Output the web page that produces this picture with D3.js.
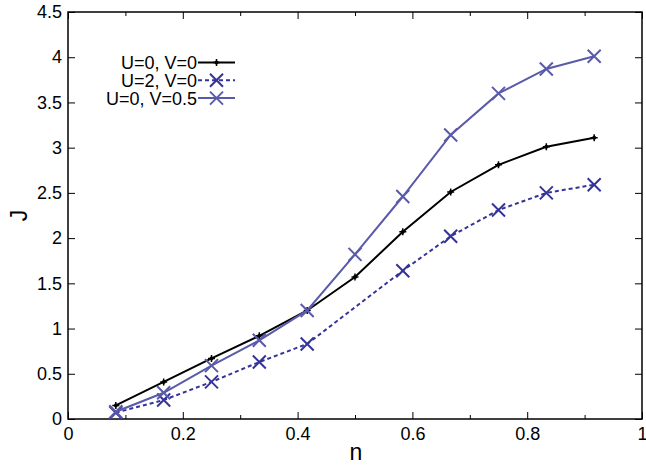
<!DOCTYPE html>
<html>
<head>
<meta charset="utf-8">
<script src="https://cdn.jsdelivr.net/npm/d3@7"></script>
<style>
  html, body { margin: 0; padding: 0; background: #fff; }
  svg { display: block; }
  text { font-family: "Liberation Sans", Arial, Helvetica, sans-serif; fill: #000; }
</style>
</head>
<body>
<div id="chart"></div>
<script>
// Filling fraction n (1/12 ... 11/12)
const nValues = [0.0833, 0.1667, 0.25, 0.3333, 0.4167, 0.5, 0.5833, 0.6667, 0.75, 0.8333, 0.9167];

// Current J for each parameter set (null = no data point at that n)
const jU0V0   = [0.15, 0.41, 0.67, 0.92, 1.20, 1.57, 2.07, 2.51, 2.81, 3.01, 3.11];
const jU2V0   = [0.07, 0.21, 0.41, 0.63, 0.83, null, 1.64, 2.02, 2.31, 2.50, 2.59];
const jU0V05  = [0.08, 0.29, 0.59, 0.87, 1.20, 1.82, 2.46, 3.14, 3.60, 3.87, 4.01];

const seriesNames = ["U=0, V=0", "U=2, V=0", "U=0, V=0.5"];

const xTicks = [0, 0.2, 0.4, 0.6, 0.8, 1];
const xMinorTicks = [0.1, 0.3, 0.5, 0.7, 0.9];
const yTicks = [0, 0.5, 1, 1.5, 2, 2.5, 3, 3.5, 4, 4.5];

const W = 646, H = 465;
const margin = { left: 68, right: 4, top: 12, bottom: 46 };

const svg = d3.select("#chart").append("svg")
  .attr("width", W).attr("height", H);

const x = d3.scaleLinear().domain([0, 1]).range([margin.left, W - margin.right]);
const y = d3.scaleLinear().domain([0, 4.5]).range([H - margin.bottom, margin.top]);

const series = [
  { name: seriesNames[0], values: jU0V0, color: "#000000", dash: null, marker: "plus", width: 2 },
  { name: seriesNames[1], values: jU2V0, color: "#33339a", dash: "4,3", marker: "cross", width: 2 },
  { name: seriesNames[2], values: jU0V05, color: "#5a5aaa", dash: null, marker: "cross", width: 2 }
];

// Axes: ticks point inward, mirrored on top and right
const tickLen = 7, minorLen = 4;
const fmt = d3.format("~g");
const bottomAxis = d3.axisBottom(x).tickValues(xTicks).tickSizeInner(-tickLen).tickSizeOuter(0)
  .tickPadding(8).tickFormat(fmt);
const bottomMinor = d3.axisBottom(x).tickValues(xMinorTicks).tickSizeInner(-minorLen).tickSizeOuter(0).tickFormat("");
const topAxis = d3.axisTop(x).tickValues(xTicks).tickSizeInner(-tickLen).tickSizeOuter(0).tickFormat("");
const topMinor = d3.axisTop(x).tickValues(xMinorTicks).tickSizeInner(-minorLen).tickSizeOuter(0).tickFormat("");
const leftAxis = d3.axisLeft(y).tickValues(yTicks).tickSizeInner(-tickLen).tickSizeOuter(0)
  .tickPadding(6).tickFormat(fmt);
const rightAxis = d3.axisRight(y).tickValues(yTicks).tickSizeInner(-tickLen).tickSizeOuter(0).tickFormat("");

function styleAxis(g) {
  g.select(".domain").remove();
  g.selectAll(".tick line").attr("stroke", "#000").attr("stroke-width", 1);
  g.selectAll(".tick text").style("font-size", "18px").attr("fill", "#000");
}

svg.append("g").attr("transform", `translate(0,${y(0)})`).call(bottomAxis).call(styleAxis);
svg.append("g").attr("transform", `translate(0,${y(0)})`).call(bottomMinor).call(styleAxis);
svg.append("g").attr("transform", `translate(0,${y(4.5)})`).call(topAxis).call(styleAxis);
svg.append("g").attr("transform", `translate(0,${y(4.5)})`).call(topMinor).call(styleAxis);
svg.append("g").attr("transform", `translate(${x(0)},0)`).call(leftAxis).call(styleAxis);
svg.append("g").attr("transform", `translate(${x(1)},0)`).call(rightAxis).call(styleAxis);

// Plot frame
svg.append("rect")
  .attr("x", x(0)).attr("y", y(4.5))
  .attr("width", x(1) - x(0)).attr("height", y(0) - y(4.5))
  .attr("fill", "none").attr("stroke", "#000").attr("stroke-width", 1.5);

// Axis titles
svg.append("text").attr("x", 356).attr("y", H - 5)
  .attr("text-anchor", "middle").style("font-size", "23px").text("n");
svg.append("text").attr("transform", `translate(27,${(y(0) + y(4.5)) / 2}) rotate(-90)`)
  .attr("text-anchor", "middle").style("font-size", "23px").text("J");

const line = d3.line().x(d => x(d[0])).y(d => y(d[1]));

function drawMarker(g, type, cx, cy, color) {
  if (type === "cross") {
    const s = 6.5;
    g.append("path")
      .attr("d", `M${cx - s},${cy - s}L${cx + s},${cy + s}M${cx - s},${cy + s}L${cx + s},${cy - s}`)
      .attr("stroke", color).attr("stroke-width", 2).attr("fill", "none");
  } else {
    const s = 3.5;
    g.append("path")
      .attr("d", `M${cx - s},${cy}L${cx + s},${cy}M${cx},${cy - s}L${cx},${cy + s}`)
      .attr("stroke", color).attr("stroke-width", 1.5).attr("fill", "none");
    g.append("circle").attr("cx", cx).attr("cy", cy).attr("r", 2).attr("fill", color);
  }
}

const plot = svg.append("g");
series.forEach(s => {
  const pts = nValues.map((n, i) => [n, s.values[i]]).filter(p => p[1] !== null);
  plot.append("path").datum(pts)
    .attr("d", line)
    .attr("fill", "none")
    .attr("stroke", s.color)
    .attr("stroke-width", s.width)
    .attr("stroke-dasharray", s.dash);
  const mg = plot.append("g");
  pts.forEach(p => drawMarker(mg, s.marker, x(p[0]), y(p[1]), s.color));
});

// Legend
const legX = 198, legY0 = 62.5, legDY = 17.8, legLen = 37;
series.forEach((s, i) => {
  const ly = legY0 + i * legDY;
  const g = svg.append("g");
  g.append("text").attr("x", legX - 1).attr("y", ly + 6.5)
    .attr("text-anchor", "end").style("font-size", "18px").text(s.name);
  g.append("line").attr("x1", legX).attr("x2", legX + legLen)
    .attr("y1", ly).attr("y2", ly)
    .attr("stroke", s.color).attr("stroke-width", s.width)
    .attr("stroke-dasharray", s.dash);
  drawMarker(g, s.marker, legX + legLen / 2, ly, s.color);
});
</script>
</body>
</html>
